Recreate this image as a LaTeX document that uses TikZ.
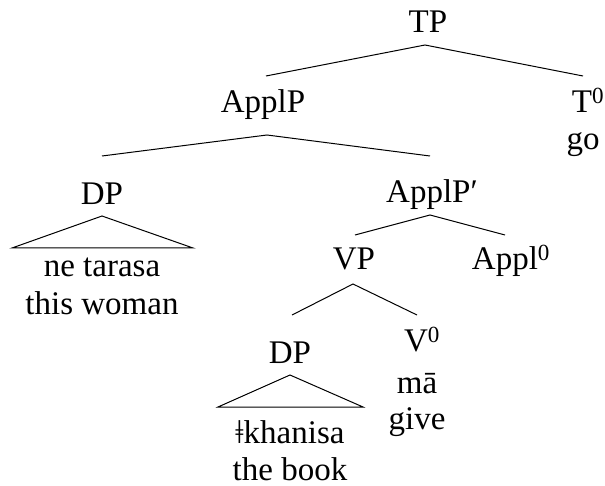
\documentclass[tikz,border=0pt]{standalone}
\usepackage{fontspec}
\setmainfont{Liberation Serif}
\begin{document}
\begin{tikzpicture}[x=1pt,y=-1pt,
  lbl/.style={anchor=base, inner sep=0pt, font=\fontsize{33}{39}\selectfont},
  br/.style={line width=1pt, line join=miter}]
\useasboundingbox (0,0) rectangle (605,486);
% TP
\node[lbl] (tp) at (428,33) {TP};
\coordinate (tpa) at (425,45);
\coordinate (tpl) at (266,76);
\coordinate (tpr) at (583,76);
\draw[br] (tpl) -- (tpa) -- (tpr);
% ApplP and T0
\node[lbl] (applp) at (263,113) {ApplP};
\node[lbl] (t0) at (588,113) {T\textsuperscript{0}};
\node[lbl] (go) at (583,150) {go};
\coordinate (apa) at (267,135);
\coordinate (apl) at (102,156);
\coordinate (apr) at (430,156);
\draw[br] (apl) -- (apa) -- (apr);
% DP (upper) with triangle
\node[lbl] (dp1) at (102,205) {DP};
\coordinate (d1a) at (102,216);
\coordinate (d1l) at (12,248);
\coordinate (d1r) at (193,248);
\draw[br] (d1l) -- (d1a) -- (d1r) -- cycle;
\node[lbl] (netar) at (102,277) {ne tarasa};
\node[lbl] (woman) at (102,315) {this woman};
% ApplP'
\node[lbl] (applpb) at (432,203) {ApplP′};
\coordinate (aba) at (430,215);
\coordinate (abl) at (355,235);
\coordinate (abr) at (505,235);
\draw[br] (abl) -- (aba) -- (abr);
% VP and Appl0
\node[lbl] (vp) at (354,270) {VP};
\node[lbl] (appl0) at (511,270) {Appl\textsuperscript{0}};
\coordinate (vpa) at (353,284);
\coordinate (vpl) at (292,315);
\coordinate (vpr) at (417,315);
\draw[br] (vpl) -- (vpa) -- (vpr);
% DP (lower) with triangle
\node[lbl] (dp2) at (290,363) {DP};
\coordinate (d2a) at (290,375);
\coordinate (d2l) at (218,407);
\coordinate (d2r) at (363,407);
\draw[br] (d2l) -- (d2a) -- (d2r) -- cycle;
\node[lbl] (khan) at (290,443) {ǂkhanisa};
\node[lbl] (book) at (290,480) {the book};
% V0
\node[lbl] (v0) at (422,352) {V\textsuperscript{0}};
\node[lbl] (ma) at (417,393) {mā};
\node[lbl] (give) at (417,429) {give};
\end{tikzpicture}
\end{document}
